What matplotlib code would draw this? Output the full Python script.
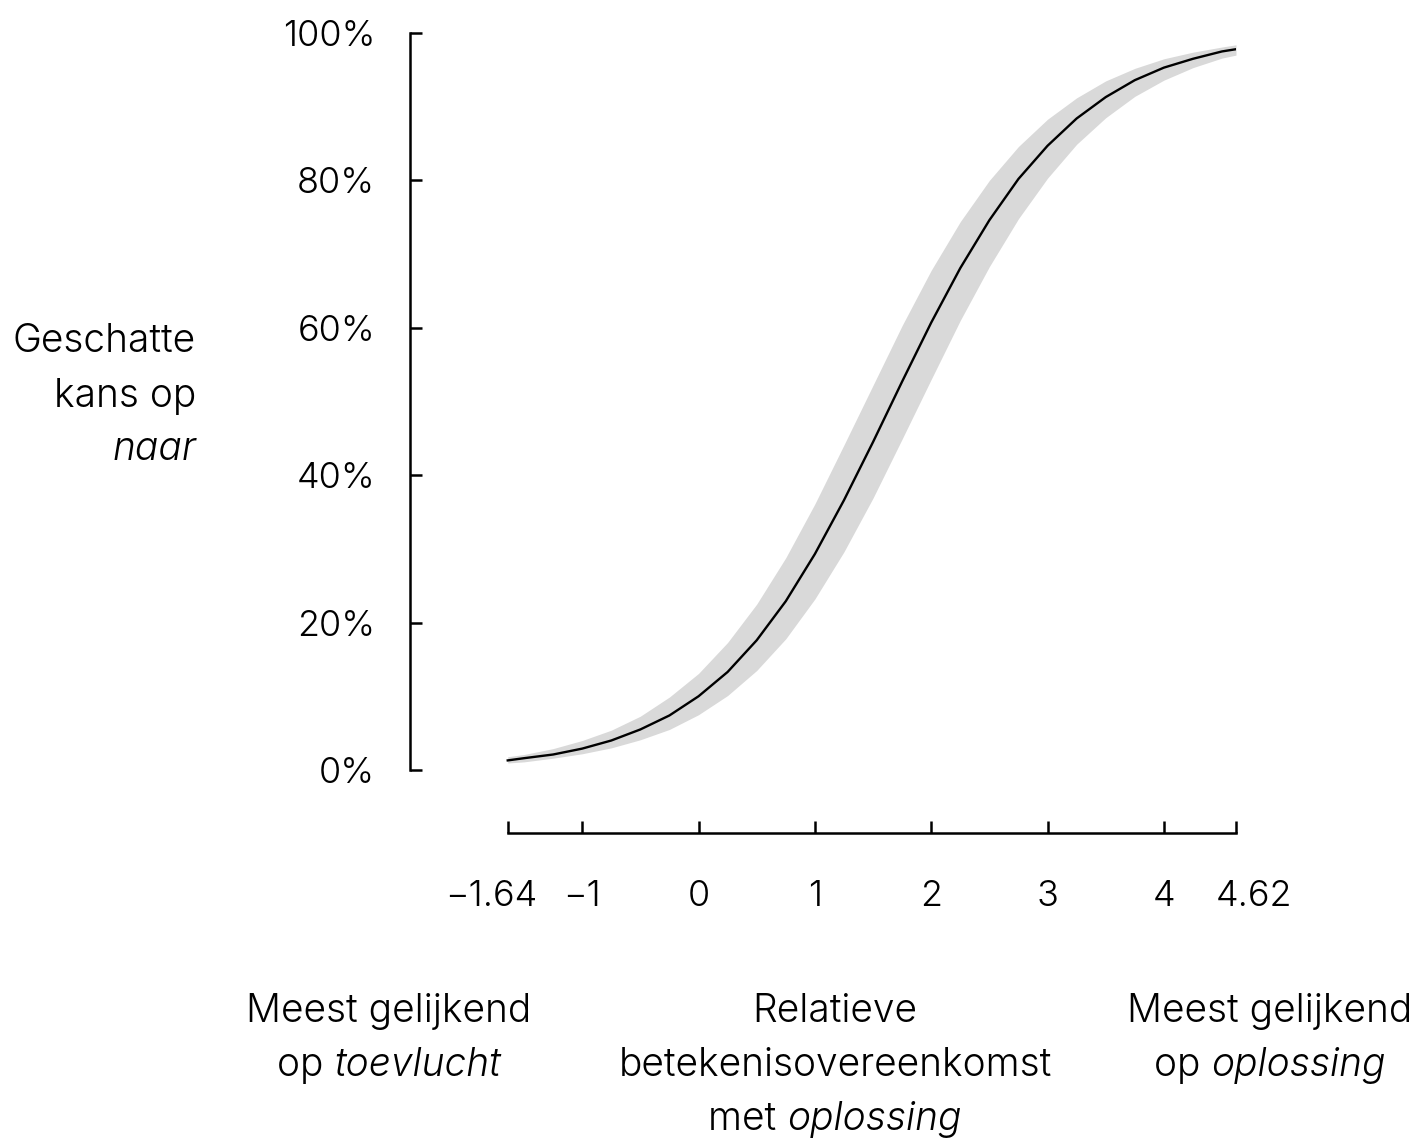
import numpy as np
import matplotlib.pyplot as plt
import matplotlib.transforms as mtransforms

# relative meaning similarity (x) and estimated probability of "naar"
x = [-1.64, -1.5, -1.25, -1.0, -0.75, -0.5, -0.25, 0.0, 0.25, 0.5, 0.75,
     1.0, 1.25, 1.5, 1.75, 2.0, 2.25, 2.5, 2.75, 3.0, 3.25, 3.5, 3.75,
     4.0, 4.25, 4.5, 4.62]
prob = [0.013, 0.016, 0.021, 0.029, 0.040, 0.055, 0.074, 0.100, 0.133,
        0.176, 0.229, 0.293, 0.366, 0.445, 0.527, 0.607, 0.681, 0.746,
        0.802, 0.847, 0.884, 0.913, 0.936, 0.953, 0.965, 0.975, 0.978]
upper = [0.018, 0.021, 0.029, 0.040, 0.054, 0.073, 0.099, 0.131, 0.173,
         0.225, 0.288, 0.361, 0.441, 0.522, 0.603, 0.678, 0.744, 0.800,
         0.846, 0.883, 0.912, 0.935, 0.952, 0.965, 0.974, 0.981, 0.984]
lower = [0.0095, 0.011, 0.016, 0.022, 0.030, 0.041, 0.055, 0.075, 0.101,
         0.135, 0.178, 0.232, 0.296, 0.369, 0.449, 0.530, 0.610, 0.683,
         0.748, 0.803, 0.849, 0.885, 0.914, 0.936, 0.953, 0.966, 0.970]

xticks = [-1.64, -1, 0, 1, 2, 3, 4, 4.62]
xticklabels = ["\u22121.64", "\u22121", "0", "1", "2", "3", "4", "4.62"]
yticks = [0, 0.2, 0.4, 0.6, 0.8, 1.0]
yticklabels = ["0%", "20%", "40%", "60%", "80%", "100%"]

plt.rcParams["font.family"] = ["Inter", "DejaVu Sans"]
plt.rcParams["font.weight"] = 300

W, H = 1422, 1143
fig = plt.figure(figsize=(W / 100, H / 100), dpi=100)
ax = fig.add_axes([410 / W, (H - 833) / H, (1236 - 410) / W, (833 - 33) / H])

ax.fill_between(x, lower, upper, color="#d9d9d9", linewidth=0)
ax.plot(x, prob, color="black", linewidth=1.7)

ax.set_xlim(-2.48, 4.62)
ax.set_ylim(-0.0855, 1.0)
ax.spines["top"].set_visible(False)
ax.spines["right"].set_visible(False)
ax.spines["left"].set_bounds(0, 1)
ax.spines["bottom"].set_bounds(-1.64, 4.62)
for s in ["left", "bottom"]:
    ax.spines[s].set_linewidth(1.8)

ax.set_xticks(xticks)
ax.set_xticklabels(xticklabels)
ax.set_yticks(yticks)
ax.set_yticklabels(yticklabels)
ax.tick_params(axis="both", direction="in", length=8.5, width=1.8,
               labelsize=26, colors="black")
ax.tick_params(axis="x", pad=34)
ax.tick_params(axis="y", pad=25)
ax.set_facecolor("none")

# end labels sit a little outward from their ticks
labels = ax.get_xticklabels()
for lab, dx in [(labels[0], -16), (labels[-1], 18)]:
    lab.set_transform(lab.get_transform() +
                      mtransforms.ScaledTranslation(dx / 100, 0, fig.dpi_scale_trans))

fs = 28
renderer = fig.canvas.get_renderer()


def mixed_line(cx, cy, parts, ha="center"):
    # parts: list of (text, italic); placed side by side in pixels
    texts = [fig.text(0, 0, t, fontsize=fs, va="center",
                      style="italic" if it else "normal") for t, it in parts]
    widths = [t.get_window_extent(renderer).width for t in texts]
    total = sum(widths)
    left = cx - total / 2 if ha == "center" else cx - total
    for t, w in zip(texts, widths):
        t.set_position((left / W, 1 - cy / H))
        left += w


mixed_line(196, 341, [("Geschatte", False)], ha="right")
mixed_line(196, 396, [("kans op", False)], ha="right")
mixed_line(196, 450, [("naar", True)], ha="right")

bottom_texts = [
    (389, [[("Meest gelijkend", False)], [("op ", False), ("toevlucht", True)]]),
    (835, [[("Relatieve", False)], [("betekenisovereenkomst", False)],
           [("met ", False), ("oplossing", True)]]),
    (1270, [[("Meest gelijkend", False)], [("op ", False), ("oplossing", True)]]),
]
for cx, lines in bottom_texts:
    for i, parts in enumerate(lines):
        mixed_line(cx, 1011 + 54 * i, parts)

fig.savefig("out.png", dpi=100)
